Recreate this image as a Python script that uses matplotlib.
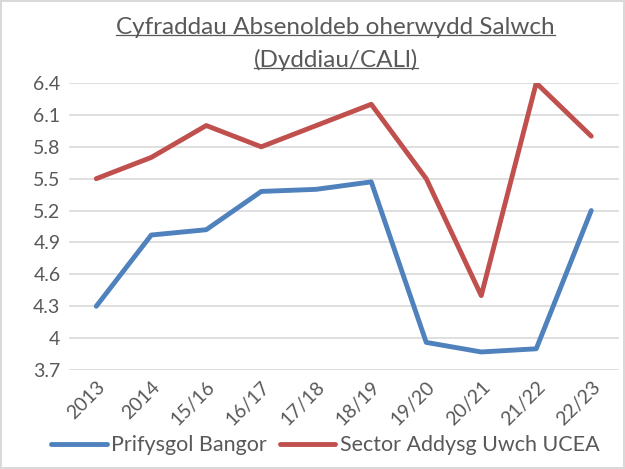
import matplotlib
matplotlib.use('Agg')
from matplotlib import pyplot as plt
from matplotlib.lines import Line2D

years = ['2013', '2014', '15/16', '16/17', '17/18', '18/19', '19/20', '20/21', '21/22', '22/23']
bangor = [4.3, 4.97, 5.02, 5.38, 5.40, 5.47, 3.96, 3.87, 3.90, 5.2]
ucea = [5.5, 5.7, 6.0, 5.8, 6.0, 6.2, 5.5, 4.4, 6.4, 5.9]
yticks = [3.7, 4, 4.3, 4.6, 4.9, 5.2, 5.5, 5.8, 6.1, 6.4]
ytick_labels = ['3.7', '4', '4.3', '4.6', '4.9', '5.2', '5.5', '5.8', '6.1', '6.4']

txt = '#595959'
plt.rcParams['font.family'] = ['Lato', 'DejaVu Sans']

fig = plt.figure(figsize=(6.25, 4.69), dpi=100)
fig.patch.set_edgecolor('#d9d9d9')
fig.patch.set_linewidth(1.5)
ax = fig.add_axes([0.11, 0.211, 0.88, 0.612])

x = list(range(len(years)))
ax.plot(x, bangor, color='#4f81bd', lw=3.5, solid_capstyle='round', label='Prifysgol Bangor')
ax.plot(x, ucea, color='#c0504d', lw=3.5, solid_capstyle='round', label='Sector Addysg Uwch UCEA')

ax.set_xlim(-0.5, len(years) - 0.5)
ax.set_ylim(3.7, 6.4)
ax.set_yticks(yticks)
ax.set_yticklabels(ytick_labels)
ax.set_xticks(x)
ax.set_xticklabels(years, rotation=45, ha='right', rotation_mode='anchor')
ax.tick_params(length=0, labelsize=14, colors=txt, pad=6)
ax.grid(axis='y', color='#d9d9d9', lw=1.2)
ax.set_axisbelow(True)
for s in ax.spines.values():
    s.set_visible(False)

t1 = fig.text(0.537, 0.942, 'Cyfraddau Absenoldeb oherwydd Salwch', ha='center', va='center',
              fontsize=17.5, color=txt)
t2 = fig.text(0.537, 0.872, '(Dyddiau/CALl)', ha='center', va='center', fontsize=17.5, color=txt)

# underline the title
fig.canvas.draw()
r = fig.canvas.get_renderer()
for t in (t1, t2):
    bb = t.get_window_extent(r).transformed(fig.transFigure.inverted())
    fig.add_artist(Line2D([bb.x0, bb.x1], [bb.y0 + 0.006, bb.y0 + 0.006], color=txt, lw=0.9))

handles = [Line2D([], [], color='#4f81bd', lw=3.5, solid_capstyle='round'),
           Line2D([], [], color='#c0504d', lw=3.5, solid_capstyle='round')]
fig.legend(handles, ['Prifysgol Bangor', 'Sector Addysg Uwch UCEA'], loc='center',
           bbox_to_anchor=(0.52, 0.051), ncol=2, frameon=False, fontsize=15.5,
           handlelength=2.6, handletextpad=0.2, columnspacing=0.6, labelcolor=txt)

fig.savefig('out.png', dpi=100)
